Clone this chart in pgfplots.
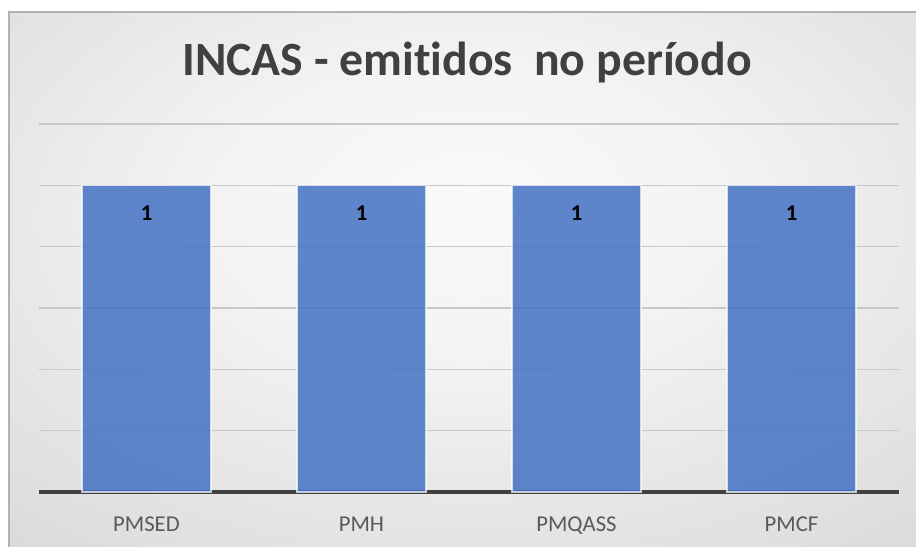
\documentclass[border=0pt]{standalone}
\usepackage{pgfplots}
\pgfplotsset{compat=1.18}
\usepackage{fontspec}
\setmainfont{Carlito}[Ligatures=NoCommon]
\definecolor{barblue}{HTML}{4472C4}
\definecolor{txtgray}{HTML}{404040}
\definecolor{lblgray}{HTML}{595959}
\definecolor{gridgray}{HTML}{C8C8C8}
\pgfdeclareradialshading{bgshade}{\pgfpoint{0bp}{8bp}}{%
  color(0bp)=(white!98!black);
  color(15bp)=(white!95!black);
  color(45bp)=(white!83!black);
  color(70bp)=(white!79!black);
  color(100bp)=(white!78!black)}
\begin{document}
\begin{tikzpicture}[x=0.75pt,y=0.75pt]
\fill[white] (0,0) rectangle (916,546);
\begin{scope}
\clip (0,0) rectangle (916,546);
\shade[shading=bgshade] (9,-10) rectangle (930,534);
\draw[gray!60, line width=1pt] (9,-10) -- (9,534) -- (930,534);
\end{scope}
\node[font=\fontsize{35.8}{42}\selectfont\bfseries, text=txtgray] at (467,483) {INCAS - emitidos\ \ no período};
\begin{axis}[
  at={(29.25pt,40.5pt)}, anchor=south west,
  scale only axis,
  width=645pt, height=276pt,
  xmin=-0.5, xmax=3.5,
  ymin=0, ymax=1.2,
  ytick={0,0.2,0.4,0.6,0.8,1.0,1.2},
  yticklabels={},
  ymajorgrids,
  grid style={gridgray, line width=0.8pt},
  axis x line*=bottom,
  axis y line*=left,
  y axis line style={draw=none},
  x axis line style={txtgray, line width=2.4pt, -},
  xtick={0,1,2,3},
  xticklabels={PMSED,PMH,PMQASS,PMCF},
  major tick length=0pt,
  tick style={draw=none},
  xticklabel style={font=\fontsize{17}{20}\selectfont, text=lblgray, yshift=-15pt},
  ybar, bar width=96.75pt,
  nodes near coords,
  every node near coord/.append style={font=\fontsize{17}{20}\selectfont\bfseries, text=black, anchor=center, yshift=-20.5pt, /pgf/number format/assume math mode=true},
  clip=false,
]
\addplot[fill=barblue, fill opacity=0.85, draw=white, draw opacity=0.7, line width=0.8pt, text opacity=1] coordinates {(0,1) (1,1) (2,1) (3,1)};
\end{axis}
\pgfresetboundingbox
\useasboundingbox (0,0) rectangle (916,546);
\end{tikzpicture}
\end{document}
